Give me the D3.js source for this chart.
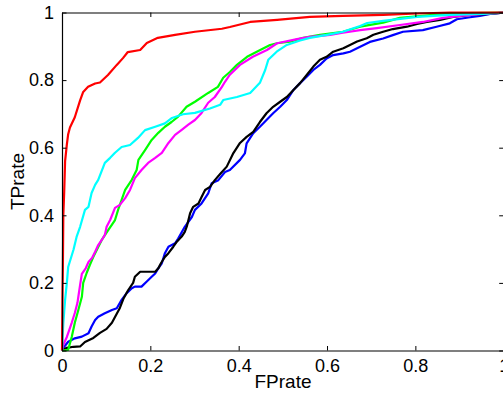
<!DOCTYPE html>
<html>
<head>
<meta charset="utf-8">
<script src="https://cdn.jsdelivr.net/npm/d3@7/dist/d3.min.js"></script>
<style>
  html, body { margin: 0; padding: 0; background: #fff; }
  svg { display: block; }
  text { font-family: "Liberation Sans", Arial, Helvetica, sans-serif; fill: #000; }
</style>
</head>
<body>
<svg id="chart" width="503" height="396"></svg>
<script>
// ---- data (FPrate, TPrate) ----
const xTicks = [0, 0.2, 0.4, 0.6, 0.8, 1];
const yTicks = [0, 0.2, 0.4, 0.6, 0.8, 1];
const xTickLabels = ["0", "0.2", "0.4", "0.6", "0.8", "1"];
const yTickLabels = ["0", "0.2", "0.4", "0.6", "0.8", "1"];
const xLabel = "FPrate";
const yLabel = "TPrate";

const blueROC = [[0,0],[0.003,0.008],[0.014,0.026],[0.029,0.036],[0.045,0.041],[0.06,0.051],[0.067,0.071],[0.075,0.09],[0.082,0.1],[0.097,0.11],[0.113,0.12],[0.124,0.125],[0.135,0.15],[0.146,0.169],[0.158,0.184],[0.165,0.189],[0.18,0.189],[0.192,0.204],[0.203,0.218],[0.211,0.228],[0.218,0.243],[0.226,0.258],[0.233,0.288],[0.241,0.307],[0.256,0.317],[0.263,0.331],[0.278,0.366],[0.294,0.395],[0.301,0.416],[0.316,0.435],[0.331,0.465],[0.339,0.495],[0.354,0.504],[0.369,0.528],[0.38,0.534],[0.403,0.564],[0.414,0.583],[0.418,0.613],[0.433,0.643],[0.448,0.662],[0.463,0.682],[0.478,0.702],[0.494,0.721],[0.509,0.741],[0.524,0.771],[0.539,0.791],[0.554,0.81],[0.569,0.83],[0.584,0.845],[0.599,0.864],[0.614,0.874],[0.637,0.879],[0.652,0.884],[0.668,0.894],[0.697,0.913],[0.727,0.923],[0.749,0.933],[0.772,0.943],[0.817,0.948],[0.848,0.958],[0.878,0.968],[0.894,0.98],[0.924,0.986],[0.946,0.99],[0.969,0.996],[1,1]];

const blackROC = [[0,0],[0.011,0.008],[0.026,0.011],[0.041,0.012],[0.052,0.025],[0.071,0.037],[0.086,0.052],[0.101,0.064],[0.113,0.082],[0.12,0.099],[0.131,0.126],[0.139,0.153],[0.15,0.179],[0.161,0.2],[0.165,0.218],[0.177,0.233],[0.211,0.233],[0.218,0.243],[0.224,0.258],[0.233,0.277],[0.241,0.288],[0.252,0.307],[0.26,0.322],[0.271,0.337],[0.278,0.351],[0.283,0.369],[0.29,0.406],[0.297,0.425],[0.309,0.435],[0.316,0.454],[0.324,0.475],[0.335,0.484],[0.346,0.504],[0.358,0.522],[0.373,0.544],[0.388,0.584],[0.403,0.614],[0.418,0.632],[0.433,0.647],[0.448,0.676],[0.463,0.702],[0.478,0.721],[0.494,0.736],[0.509,0.75],[0.524,0.771],[0.539,0.791],[0.554,0.815],[0.569,0.84],[0.584,0.86],[0.599,0.869],[0.614,0.884],[0.637,0.894],[0.652,0.904],[0.668,0.914],[0.69,0.924],[0.705,0.934],[0.727,0.943],[0.749,0.951],[0.781,0.958],[0.804,0.966],[0.826,0.972],[0.856,0.978],[0.885,0.987],[0.924,0.993],[0.969,0.996],[1,1]];

const greenROC = [[0,0],[0.014,0.002],[0.022,0.04],[0.029,0.082],[0.037,0.12],[0.045,0.159],[0.048,0.2],[0.056,0.23],[0.063,0.253],[0.071,0.277],[0.079,0.298],[0.09,0.327],[0.105,0.357],[0.12,0.386],[0.127,0.416],[0.135,0.446],[0.143,0.475],[0.158,0.505],[0.169,0.534],[0.173,0.564],[0.188,0.593],[0.203,0.623],[0.218,0.644],[0.233,0.662],[0.248,0.676],[0.263,0.692],[0.282,0.721],[0.301,0.736],[0.331,0.762],[0.353,0.78],[0.365,0.807],[0.38,0.824],[0.396,0.845],[0.419,0.869],[0.441,0.884],[0.471,0.904],[0.487,0.909],[0.516,0.914],[0.546,0.925],[0.584,0.934],[0.636,0.943],[0.675,0.958],[0.727,0.97],[0.765,0.984],[0.84,0.993],[0.917,0.998],[1,1]];

const magentaROC = [[0,0],[0.003,0.017],[0.011,0.04],[0.022,0.082],[0.029,0.111],[0.035,0.141],[0.037,0.159],[0.041,0.194],[0.045,0.227],[0.054,0.244],[0.06,0.262],[0.068,0.274],[0.075,0.292],[0.082,0.312],[0.09,0.327],[0.097,0.342],[0.101,0.366],[0.109,0.386],[0.12,0.422],[0.131,0.431],[0.143,0.451],[0.154,0.475],[0.165,0.51],[0.18,0.534],[0.195,0.555],[0.211,0.57],[0.226,0.585],[0.241,0.614],[0.256,0.638],[0.271,0.653],[0.286,0.668],[0.301,0.682],[0.316,0.703],[0.331,0.733],[0.346,0.75],[0.362,0.78],[0.369,0.795],[0.38,0.816],[0.403,0.845],[0.432,0.869],[0.464,0.889],[0.487,0.909],[0.532,0.921],[0.561,0.928],[0.607,0.934],[0.636,0.94],[0.675,0.948],[0.713,0.954],[0.765,0.963],[0.817,0.972],[0.863,0.984],[0.901,0.99],[0.953,0.996],[1,1]];

const cyanROC = [[0,0],[0.001,0.03],[0.003,0.081],[0.007,0.15],[0.011,0.2],[0.014,0.247],[0.026,0.298],[0.033,0.336],[0.041,0.366],[0.052,0.416],[0.06,0.425],[0.067,0.466],[0.075,0.49],[0.082,0.505],[0.097,0.555],[0.109,0.57],[0.12,0.585],[0.135,0.602],[0.154,0.608],[0.172,0.629],[0.188,0.652],[0.211,0.662],[0.233,0.672],[0.249,0.688],[0.274,0.699],[0.301,0.703],[0.335,0.716],[0.358,0.727],[0.365,0.741],[0.396,0.75],[0.426,0.762],[0.448,0.792],[0.46,0.83],[0.467,0.86],[0.486,0.884],[0.509,0.904],[0.539,0.917],[0.561,0.925],[0.6,0.934],[0.636,0.943],[0.675,0.96],[0.691,0.969],[0.727,0.975],[0.804,0.987],[0.878,0.993],[0.953,0.996],[1,1]];

const redROC = [[0,0],[0.001,0.15],[0.002,0.25],[0.003,0.4],[0.005,0.47],[0.007,0.56],[0.011,0.61],[0.014,0.64],[0.018,0.66],[0.029,0.69],[0.041,0.74],[0.048,0.765],[0.059,0.78],[0.075,0.79],[0.086,0.793],[0.104,0.815],[0.124,0.845],[0.138,0.865],[0.149,0.883],[0.177,0.889],[0.192,0.91],[0.217,0.925],[0.256,0.934],[0.301,0.943],[0.362,0.952],[0.38,0.957],[0.426,0.972],[0.487,0.978],[0.561,0.987],[0.636,0.99],[0.727,0.993],[0.804,0.997],[0.878,1],[1,1]];

const seriesNames = ["blue", "black", "green", "magenta", "cyan", "red"];
const seriesData = [blueROC, blackROC, greenROC, magentaROC, cyanROC, redROC];
const seriesColors = ["#0000ff", "#000000", "#00ff00", "#ff00ff", "#00ffff", "#ff0000"];

// ---- layout ----
const svg = d3.select("#chart");
const mLeft = 62, mTop = 12.5, plotW = 441.7, plotH = 338;

const xScale = d3.scaleLinear().domain([0, 1]).range([mLeft, mLeft + plotW]);
const yScale = d3.scaleLinear().domain([0, 1]).range([mTop + plotH, mTop]);

const lineGen = d3.line().x(d => xScale(d[0])).y(d => yScale(d[1]));

// curves
const curvesG = svg.append("g");
seriesData.forEach((data, i) => {
  curvesG.append("path")
    .datum(data)
    .attr("d", lineGen)
    .attr("fill", "none")
    .attr("stroke", seriesColors[i])
    .attr("stroke-width", 2.2)
    .attr("stroke-linejoin", "round");
});

// axes (MATLAB box with inward ticks)
const tickLen = 4.5;
const bottomAxis = d3.axisBottom(xScale).tickValues(xTicks).tickSize(-tickLen).tickSizeOuter(0).tickPadding(9)
  .tickFormat((d, i) => xTickLabels[i]);
const topAxis = d3.axisTop(xScale).tickValues(xTicks).tickSize(-tickLen).tickSizeOuter(0).tickFormat("");
const leftAxis = d3.axisLeft(yScale).tickValues(yTicks).tickSize(-tickLen).tickSizeOuter(0).tickPadding(8)
  .tickFormat((d, i) => yTickLabels[i]);
const rightAxis = d3.axisRight(yScale).tickValues(yTicks).tickSize(-tickLen).tickSizeOuter(0).tickFormat("");

function styleAxis(sel) {
  sel.selectAll("path.domain").attr("stroke", "#000").attr("stroke-width", 1.2);
  sel.selectAll(".tick line").attr("stroke", "#000").attr("stroke-width", 1);
  sel.selectAll(".tick text").attr("font-size", 18).attr("font-family", "Liberation Sans, Arial, sans-serif").attr("fill", "#000");
}

svg.append("g").attr("transform", `translate(0,${mTop + plotH})`).call(bottomAxis).call(styleAxis);
svg.append("g").attr("transform", `translate(0,${mTop})`).call(topAxis).call(styleAxis);
svg.append("g").attr("transform", `translate(${mLeft},0)`).call(leftAxis).call(styleAxis);
svg.append("g").attr("transform", `translate(${mLeft + plotW},0)`).call(rightAxis).call(styleAxis);

// axis labels
svg.append("text")
  .attr("x", 283)
  .attr("y", 388)
  .attr("text-anchor", "middle")
  .attr("font-size", 19)
  .text(xLabel);

svg.append("text")
  .attr("transform", `translate(24,${yScale(0.5)}) rotate(-90)`)
  .attr("text-anchor", "middle")
  .attr("font-size", 19)
  .text(yLabel);
</script>
</body>
</html>
